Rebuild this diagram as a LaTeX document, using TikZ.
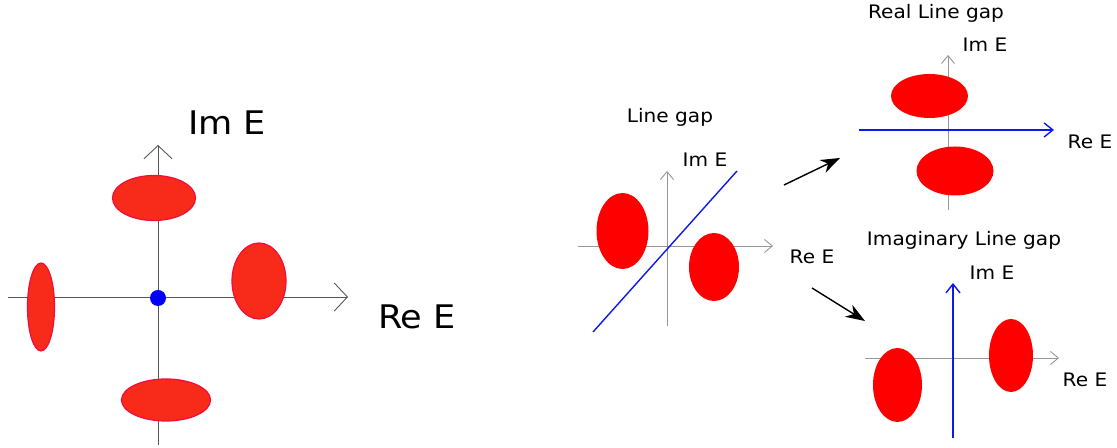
\documentclass[tikz,border=0pt]{standalone}
\usepackage{fontspec}
\setmainfont{DejaVu Sans}[FakeStretch=1.08]
\usepackage{xcolor}
\usepackage{tikz}
\usetikzlibrary{arrows.meta, positioning}

\definecolor{blobred}{RGB}{248,42,26}
\definecolor{blobedge}{RGB}{240,15,60}
\definecolor{axdark}{RGB}{85,85,85}
\definecolor{axlight}{RGB}{150,150,150}
\definecolor{gapblue}{RGB}{15,25,235}

\begin{document}
\begin{tikzpicture}[
  x=0.02cm, y=-0.02cm,
  bigax/.style  = {draw=axdark, line width=0.5pt,
                   -{Straight Barb[length=7.5pt, width=16pt]}},
  ax/.style     = {draw=axlight, line width=0.5pt,
                   -{Straight Barb[length=4.5pt, width=7.5pt]}},
  gapline/.style= {draw=gapblue, line width=0.8pt},
  gapax/.style  = {gapline, -{Straight Barb[length=5pt, width=8pt]}},
  bigblob/.style= {fill=blobred, draw=blobedge, line width=0.7pt},
  blob/.style   = {fill=red},
  biglbl/.style = {font=\fontsize{18.5}{22}\selectfont, inner sep=0pt},
  lbl/.style    = {font=\fontsize{10.6}{12}\selectfont, inner sep=0pt},
  flow/.style   = {draw=black, line width=0.8pt,
                   -{Stealth[length=11pt, width=8pt]}},
]
\useasboundingbox (0,0) rectangle (1117,448);

%% left: full spectrum
\coordinate (reL) at (8,297);    \coordinate (reR) at (348,297);
\coordinate (imB) at (158,445);  \coordinate (imT) at (158,145);
\draw[bigax] (reL) -- (reR);
\draw[bigax] (imB) -- (imT);
\foreach \cx/\cy/\rx/\ry in {154/198/41.5/22.5, 259/281/27/38,
                             41/307/13.5/44, 166/400/44.5/21}{
  \path[bigblob] (\cx,\cy) ellipse [x radius=\rx, y radius=\ry];
}
\fill[blue] (158,298) circle [radius=8];
\node[biglbl] (imlbl) at (227,123) {Im E};
\node[biglbl] (relbl) at (417,317) {Re E};

%% middle: line gap
\node[lbl] (linegap) at (670,117) {Line gap};
\coordinate (mreL) at (578,246);  \coordinate (mreR) at (773,246);
\coordinate (mimB) at (667,326);  \coordinate (mimT) at (667,171);
\coordinate (gapA) at (593,332);  \coordinate (gapB) at (737,171);
\draw[ax] (mreL) -- (mreR);
\draw[ax] (mimB) -- (mimT);
\foreach \cx/\cy/\rx/\ry in {622.5/231/26/38, 714/267/25/34}{
  \fill[blob] (\cx,\cy) ellipse [x radius=\rx, y radius=\ry];
}
\draw[gapline] (gapA) -- (gapB);
\node[lbl] (mimlbl) at (705,160) {Im E};
\node[lbl] (mrelbl) at (812,257) {Re E};

%% top right: real line gap
\node[lbl] (realgap) at (936,13) {Real Line gap};
\coordinate (rimB) at (948,210);  \coordinate (rimT) at (948,55);
\coordinate (rreL) at (859,130);  \coordinate (rreR) at (1054,130);
\draw[ax] (rimB) -- (rimT);
\foreach \cx/\cy/\rx/\ry in {929.5/96/38.5/22, 955/171/38.5/24.5}{
  \fill[blob] (\cx,\cy) ellipse [x radius=\rx, y radius=\ry];
}
\draw[gapax] (rreL) -- (rreR);
\node[lbl] (rimlbl) at (985,45) {Im E};
\node[lbl] (rrelbl) at (1090,142) {Re E};

%% bottom right: imaginary line gap
\node[lbl] (imaggap) at (964,240) {Imaginary Line gap};
\coordinate (ireL) at (865,358);  \coordinate (ireR) at (1059,358);
\coordinate (iimB) at (953,438);  \coordinate (iimT) at (953,283);
\draw[ax] (ireL) -- (ireR);
\foreach \cx/\cy/\rx/\ry in {897.5/385/24.5/37, 1011/355.5/22/36.5}{
  \fill[blob] (\cx,\cy) ellipse [x radius=\rx, y radius=\ry];
}
\draw[gapax] (iimB) -- (iimT);
\node[lbl] (iimlbl) at (992,273) {Im E};
\node[lbl] (irelbl) at (1085,380) {Re E};

%% flow arrows
\coordinate (upA) at (784,185);  \coordinate (upB) at (840,158);
\coordinate (dnA) at (812,288);  \coordinate (dnB) at (865,321);
\draw[flow] (upA) -- (upB);
\draw[flow] (dnA) -- (dnB);

\end{tikzpicture}
\end{document}
